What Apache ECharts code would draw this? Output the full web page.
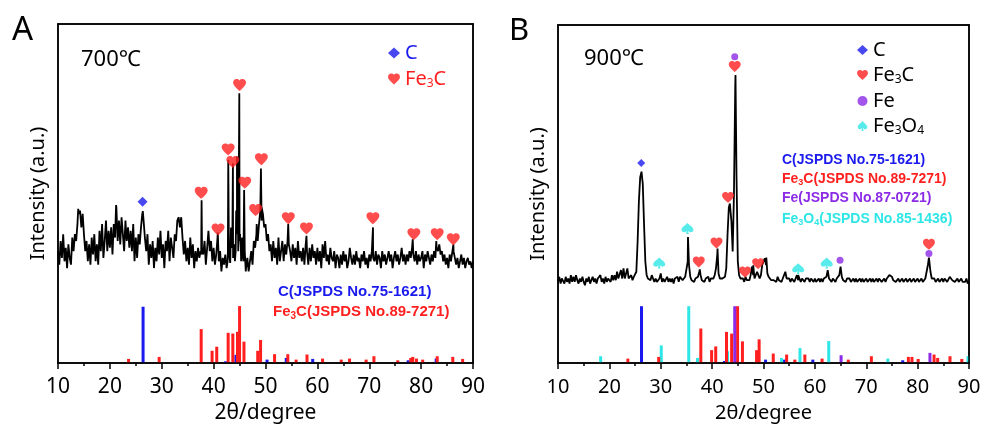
<!DOCTYPE html>
<html><head><meta charset="utf-8">
<script src="https://cdn.jsdelivr.net/npm/echarts/dist/echarts.min.js"></script>
<style>html,body{margin:0;padding:0;background:#fff}#wrap{position:relative;width:985px;height:432px}#c,#f{position:absolute;left:0;top:0;width:985px;height:432px}#f{pointer-events:none}</style>
</head><body><div id="wrap"><div id="c"></div><div id="f"></div></div><script>
// ---------- DATA ----------
const xTicks = [10, 20, 30, 40, 50, 60, 70, 80, 90];
const patternStep = 0.25, patternStart = 10;
// Panel A (700 C) measured pattern, every 0.25 degree from 10 to 90
const patternA = [
33,29,36,31, 38,30,34,28, 35,31,29,37, 33,38,36,41, 44,45,40,44,
38,33,36,30, 35,29,37,32, 38,30,35,29, 39,33,41,31, 36,42,33,39,
34,40,32,41, 37,46,36,42, 35,43,38,33, 42,36,40,34, 39,33,41,30,
37,31,38,35, 40,44,42,37, 33,38,29,35, 31,36,28,34, 30,37,32,39,
31,35,28,36, 33,39,30,37, 34,31,38,36, 42,43,40,43, 37,32,36,30,
34,29,37,31, 35,28,33,30, 34,31,33,36, 32,36,29,34, 39,33,36,30,
34,29,32,37, 30,33,27,31, 29,32,28,33, 32,30,34,31, 35,33,38,33,
36,34,37,30, 33,28,31,27, 30,33,29,36, 34,38,36,41, 45,42,44,40,
41,36,38,33, 35,30,36,31, 34,29,37,30, 33,36,30,35, 32,36,35,33,
30,35,31,34, 29,36,31,33, 30,34,29,35, 33,29,34,30, 35,31,33,29,
34,30,33,28, 35,31,36,30, 32,29,34,31, 30,33,28,32, 31,28,32,29,
33,30,32,28, 30,34,31,29, 32,29,33,30, 31,28,32,30, 33,29,31,28,
32,30,33,31, 30,33,29,32, 31,28,33,30, 32,29,31,33, 30,32,28,31,
33,30,32,29, 31,34,30,32, 29,32,30,33, 31,34,32,30, 33,29,32,30,
31,33,28,32, 30,33,31,29, 32,30,33,31, 34,33,35,32, 33,30,32,29,
31,28,32,30, 30,33,31,29, 31,28,30,32, 29,31,28,30, 31,29,30,28,
30];
// sharp reflections of panel A, [2theta, intensity]
const peaksA = [[13.9,45.5],[21.2,46.6],[26.35,44.8],[37.6,32],[37.68,48],[37.76,33],[39.0,39.5],[40.8,38.5],
 [42.7,30],[42.82,59.9],[42.95,33],[43.2,29.5],[43.35,40],[43.6,35],[43.72,58.9],[43.85,34],[44.1,30],
 [44.35,45],[44.5,60.9],[44.62,50],[44.8,40],[44.95,79.6],[45.08,38],[45.3,30],[45.5,33],[45.88,51],
 [46.0,33],[46.2,27],[48.3,41],[49.05,45],[49.12,57.4],[49.25,46],[54.38,41],[57.9,37.5],[70.72,40],
 [78.38,36.5],[82.92,36],[86.22,35]];
// Panel B (900 C)
const patternB = [
24,25.5,23.5,25, 24.5,23.5,25.5,24, 25,23.5,26,24, 25.5,24,26,24.5, 23.5,25,24,25.5,
24,23,25,24, 25.5,23.5,24.5,25.5, 24,25,23.5,25, 24.5,26,24,25, 23.5,25.5,24,25,
25.5,24,26,24.5, 26,24.5,27,25, 25.5,27.5,25,28, 25,26.5,28,25, 25.5,26,24.5,25.5,
26,27,36,48, 55,56.6,53,41, 30,26,25,25.5, 24.5,26,25,24, 25,24,24.5,25,
26.5,24,25,24, 24.5,25.5,24,25, 24,25,23.5,25, 24.5,25.5,24,25.5, 26,24.5,25,25.5,
26,30,29,25.5, 24.5,25,24,25, 24.5,25.5,27,26, 24.5,25,24,25, 24.5,25.5,24,25,
24.5,25,26,28, 32,26.5,25,24.5, 25,24.5,25.5,28, 38,46,47,42, 33,50,82,55,
30,26,25,24.5, 25,24,25.5,24.5, 25,24.5,26,28.5, 26,25,25.5,27, 26,25,26,29,
30,31,29,26.5, 25.5,25,24.5,25, 24.5,25,24,25.5, 24.5,25,24,25, 25,27,25,24.5,
25,24,25,24.5, 24,25,26,24.5, 25,24,25,24.5, 24,25,24.5,25, 24,25,24.5,24,
25,24,24.5,25, 24,25,24,25, 24.5,25.5,27.5,25, 24.5,24,25,24.5, 24,25,24.5,26,
28.5,25.5,24.5,25, 24,25,24.5,25, 24,24.5,25,24, 25,24,24.5,25, 24,25,24,24.5,
25,24,24.5,25, 24,25,24,24.5, 25,24,25,24.5, 24,24.5,25,24, 25,25.5,26,26.5,
25.5,24.5,25,24, 24.5,25,24,24.5, 25,24,24.5,25, 24,24.5,25,24, 24.5,25,24,24.5,
25,24,24.5,25, 24,24.5,25,25.5, 29,31,27,25, 24.5,25,24,24.5, 25,24,24.5,25,
24,25,24.5,24, 24.5,25.5,25,24.5, 25,24,24.5,25, 24,24.5,25,24, 24.5,24,25,23.5,
24];
const peaksB = [[30.0,26.5],[35.3,37.3],[37.6,27.7],[41.05,33.9],[43.45,47.2],[44.55,85.2],[48.0,28.9],
 [50.55,31.2],[56.75,26],[62.5,27.4],[65.0,28.4],[82.2,31.2]];

// reference stick patterns [2theta, relative height]
const refC_A = [[26.4,16.6],[42.3,0.5],[44.3,2.4],[50.3,1],[54.0,1.5],[59.1,1.2],[77.5,0.8],[82.9,1.3]];
const refFe3C_A = [[23.6,1.2],[29.5,1.8],[37.6,10],[39.7,3.6],[40.6,4.8],[42.8,8.9],[43.7,8.7],[44.6,9.2],
 [45.0,16.8],[45.85,6.3],[48.5,3.6],[49.05,6.8],[51.75,2.6],[54.3,2.6],[55.9,1],[58.0,2.5],[61.0,1.3],
 [64.6,1.0],[66.2,1.3],[69.4,1.0],[70.9,2.0],[75.5,0.8],[78.0,1.5],[78.4,1.8],[79.1,1.3],[80.3,1.0],
 [83.1,2.0],[86.1,1.8],[88.0,1.2]];
const refC_B = [[26.25,16.8],[42.4,0.6],[50.4,1],[54.1,1],[59.6,1],[77.1,0.8]];
const refFe3C_B = [[23.6,1.3],[29.6,1.8],[37.8,10.2],[39.9,3.8],[40.7,4.9],[42.8,9.2],[43.8,8.7],[44.95,16.8],
 [45.9,6.4],[48.65,3.8],[49.15,7],[51.9,2.8],[54.5,2.5],[56.1,1],[58.05,2.5],[61.4,1.3],[66.5,1],[71.0,2],
 [78.2,1.8],[78.9,1.8],[80.1,1.2],[83.2,2.5],[83.9,1.5],[86.3,2],[88.6,1.2]];
const refFe_B = [[44.4,16.8],[65.1,2.3],[82.4,3]];
const refFe3O4_B = [[18.3,2],[30.1,5.2],[35.45,16.8],[37.15,1.5],[43.0,3.5],[53.5,1.5],[57.1,4.4],[62.7,6.5],[74.2,1.3],[89.8,2]];

// phase markers [2theta, position]
const markC_A = [[26.3,47.6]];
const markFe3C_A = [[37.6,50.2],[40.85,39.4],[42.8,63.0],[43.7,59.3],[45.0,82.0],[46.0,53.2],[48.1,45.1],[49.2,60.1],
 [54.4,42.7],[57.9,39.7],[70.7,42.7],[78.6,38.0],[83.1,38.0],[86.2,36.5]];
const markC_B = [[26.2,59.2]];
const markFe3C_B = [[37.4,29.9],[40.85,35.5],[43.1,49],[44.4,87.7],[46.4,26.9],[48.95,29.4],[82.2,35.1]];
const markFe_B = [[44.4,90.6],[64.9,30.4],[82.2,32.4]];
const markFe3O4_B = [[29.7,29.6],[35.2,39.8],[56.75,27.9],[62.3,29.6]];

// ---------- STYLE ----------
const FONT = '"Noto Sans", "DejaVu Sans", "Noto Sans CJK SC", sans-serif';
const BFONT = '"Liberation Sans", Arial, sans-serif';
const BLUE = '#1a1aee', RED = '#ff1f1f', PURPLE = '#8c2be6', CYAN = '#2ee6e6';
const HEART = 'path://M12,21.35l-1.45-1.32C5.4,15.36,2,12.28,2,8.5C2,5.42,4.42,3,7.5,3c1.74,0,3.41,0.81,4.5,2.09C13.09,3.81,14.76,3,16.5,3C19.58,3,22,5.42,22,8.5c0,3.78-3.4,6.86-8.55,11.54L12,21.35z';
const SPADE = 'path://M12,2C9,6,3,9,3,14C3,17,6,18.5,8.5,17.5C9.5,17,10.5,16.3,11,15.5L10,21L14,21L13,15.5C13.5,16.3,14.5,17,15.5,17.5C18,18.5,21,17,21,14C21,9,15,6,12,2Z';
const GRIDS = [{left: 58, top: 24, width: 415, height: 339}, {left: 558, top: 25, width: 411, height: 338}];

function frame() { return {color: '#000', width: 1.5}; }
function gridOpts() { return GRIDS.map(g => Object.assign({containLabel: false, outerBoundsMode: 'none'}, g)); }
function build(vals, peaks) {
  const pts = vals.map((v, i) => [+(patternStart + i * patternStep).toFixed(2), v]);
  return pts.concat(peaks).sort((a, b) => a[0] - b[0]);
}
function xAx(gi, fs) {
  return {gridIndex: gi, type: 'value', min: xTicks[0], max: xTicks[xTicks.length - 1], interval: 10,
    axisLine: {show: true, onZero: false, lineStyle: frame()},
    axisTick: {show: true, inside: false, length: 6, lineStyle: frame()},
    minorTick: {show: true, splitNumber: 2, length: 3, lineStyle: frame()},
    splitLine: {show: false}, minorSplitLine: {show: false},
    axisLabel: {fontSize: fs, color: '#000', fontFamily: FONT, margin: 14},
    name: '2θ/degree', nameLocation: 'middle', nameGap: 40,
    nameTextStyle: {fontSize: fs, color: '#000', fontFamily: FONT}};
}
function plainX(gi, pos) {
  return {gridIndex: gi, type: 'value', position: pos, min: xTicks[0], max: xTicks[xTicks.length - 1], interval: 10,
    axisLine: {show: true, onZero: false, lineStyle: frame()}, axisTick: {show: false}, axisLabel: {show: false},
    splitLine: {show: false}};
}
function yAx(gi) {
  return {gridIndex: gi, type: 'value', min: 0, max: 100,
    axisLine: {show: true, onZero: false, lineStyle: frame()}, axisTick: {show: false}, axisLabel: {show: false}, splitLine: {show: false},
    name: 'Intensity (a.u.)', nameLocation: 'middle', nameRotate: 90, nameGap: 10,
    nameTextStyle: {fontSize: 20, color: '#000', fontFamily: FONT}};
}
function plainY(gi, pos) {
  return {gridIndex: gi, type: 'value', position: pos, min: 0, max: 100,
    axisLine: {show: true, onZero: false, lineStyle: frame()}, axisTick: {show: false}, axisLabel: {show: false}, splitLine: {show: false}};
}
function line(name, gi, data) {
  return {name, type: 'line', xAxisIndex: gi, yAxisIndex: gi, data, showSymbol: false, symbol: 'none',
    lineStyle: {color: '#000', width: 1.8}, itemStyle: {color: '#000'}, z: 3};
}
function sticks(name, gi, data, color) {
  return {name, type: 'bar', xAxisIndex: gi, yAxisIndex: gi, data, barWidth: 3, barGap: '-100%',
    itemStyle: {color}, z: 2};
}
function marks(name, gi, data, color, symbol, size) {
  return {name, type: 'scatter', xAxisIndex: gi, yAxisIndex: gi, data, symbol, symbolSize: size,
    itemStyle: {color}, z: 5};
}
const legendNames = {C_A: '{n|C}', Fe3C_A: '{n|Fe}{s|3}{n|C}', C_B: '{n|C}', Fe3C_B: '{n|Fe}{s|3}{n|C}',
  Fe_B: '{n|Fe}', Fe3O4_B: '{n|Fe}{s|3}{n|O}{s|4}'};
function legendText() {
  return {fontSize: 20, fontFamily: FONT,
    rich: {n: {fontSize: 20, fontFamily: FONT}, s: {fontSize: 12, fontFamily: FONT, padding: [10, 0, 0, 0]}}};
}
function label(x, y, parts, color, fs, bold) {
  const fam = bold ? BFONT : FONT, wt = bold ? 'bold' : 'normal';
  return {type: 'text', x, y, silent: true, z: 50, style: {text: parts, fill: color, fontSize: fs,
    fontFamily: fam, fontWeight: wt, verticalAlign: 'middle',
    rich: {n: {fontSize: fs, fontFamily: fam, fontWeight: wt},
      s: {fontSize: Math.round(fs * 0.65), fontFamily: fam, fontWeight: wt, padding: [Math.round(fs * 0.55), 0, 0, 0]}}}};
}

const chart = echarts.init(document.getElementById('c'), null, {renderer: 'canvas'});
chart.setOption({
  animation: false,
  backgroundColor: '#fff',
  grid: gridOpts(),
  xAxis: [xAx(0, 21), xAx(1, 20), plainX(0, 'top'), plainX(1, 'top')],
  yAxis: [yAx(0), yAx(1), plainY(0, 'right'), plainY(1, 'right')],
  legend: [
    {data: [{name: 'C_A', icon: 'diamond', textStyle: {color: BLUE}}, {name: 'Fe3C_A', icon: HEART, textStyle: {color: RED}}],
      orient: 'vertical', left: 388, top: 43, padding: 0, itemWidth: 12, itemHeight: 11, itemGap: 6,
      selectedMode: false, formatter: n => legendNames[n], textStyle: legendText()},
    {data: [{name: 'C_B', icon: 'diamond', textStyle: {color: '#000'}}, {name: 'Fe3C_B', icon: HEART, textStyle: {color: '#000'}},
            {name: 'Fe_B', icon: 'circle', textStyle: {color: '#000'}}, {name: 'Fe3O4_B', icon: SPADE, textStyle: {color: '#000'}}],
      orient: 'vertical', left: 857, top: 40, padding: 0, itemWidth: 11, itemHeight: 10, itemGap: 5,
      selectedMode: false, formatter: n => legendNames[n], textStyle: legendText()}
  ],
  graphic: [
    label(12, 31, '{n|A}', '#000', 33, false),
    label(509, 31, '{n|B}', '#000', 31, false),
    label(81, 60, '{n|700℃}', '#000', 22, false),
    label(584, 59, '{n|900℃}', '#000', 22, false),
    label(278, 292, '{n|C(JSPDS No.75-1621)}', BLUE, 15, true),
    label(273, 312, '{n|Fe}{s|3}{n|C(JSPDS No.89-7271)}', RED, 15, true),
    label(782, 160, '{n|C(JSPDS No.75-1621)}', BLUE, 14, true),
    label(782, 179, '{n|Fe}{s|3}{n|C(JSPDS No.89-7271)}', RED, 14, true),
    label(782, 198, '{n|Fe(JSPDS No.87-0721)}', PURPLE, 14, true),
    label(782, 219, '{n|Fe}{s|3}{n|O}{s|4}{n|(JSPDS No.85-1436)}', CYAN, 14, true)
  ],
  series: [
    sticks('refC_A', 0, refC_A, BLUE),
    sticks('refFe3C_A', 0, refFe3C_A, RED),
    line('patternA', 0, build(patternA, peaksA)),
    marks('C_A', 0, markC_A, BLUE, 'diamond', 10),
    marks('Fe3C_A', 0, markFe3C_A, RED, HEART, [13, 12]),
    sticks('refFe3O4_B', 1, refFe3O4_B, CYAN),
    sticks('refC_B', 1, refC_B, BLUE),
    sticks('refFe3C_B', 1, refFe3C_B, RED),
    sticks('refFe_B', 1, refFe_B, PURPLE),
    line('patternB', 1, build(patternB, peaksB)),
    marks('C_B', 1, markC_B, BLUE, 'diamond', 8),
    marks('Fe3C_B', 1, markFe3C_B, RED, HEART, [12, 11]),
    marks('Fe_B', 1, markFe_B, PURPLE, 'circle', 7),
    marks('Fe3O4_B', 1, markFe3O4_B, CYAN, SPADE, [12, 11])
  ]
});

// second transparent ECharts layer drawing the plot frames (box axes)
const frameChart = echarts.init(document.getElementById('f'), null, {renderer: 'canvas'});
frameChart.setOption({
  animation: false,
  backgroundColor: 'transparent',
  grid: gridOpts(),
  xAxis: [plainX(0, 'bottom'), plainX(1, 'bottom'), plainX(0, 'top'), plainX(1, 'top')],
  yAxis: [plainY(0, 'left'), plainY(1, 'left'), plainY(0, 'right'), plainY(1, 'right')]
});
</script></body></html>
